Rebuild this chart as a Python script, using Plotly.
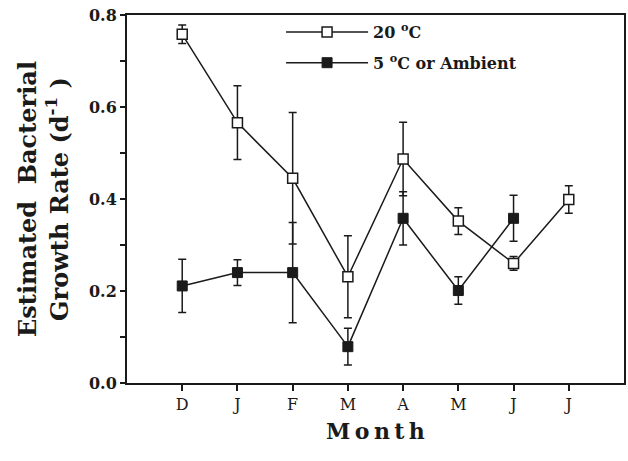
import plotly.graph_objects as go

months = ["D", "J", "F", "M", "A", "M", "J", "J"]
x_idx = [0, 1, 2, 3, 4, 5, 6, 7]

warm_vals = [0.758, 0.566, 0.445, 0.231, 0.487, 0.352, 0.260, 0.399]
warm_err = [0.020, 0.080, 0.143, 0.089, 0.080, 0.029, 0.015, 0.030]

cold_x = [0, 1, 2, 3, 4, 5, 6]
cold_vals = [0.211, 0.240, 0.240, 0.079, 0.358, 0.201, 0.358]
cold_err = [0.058, 0.028, 0.109, 0.040, 0.058, 0.030, 0.050]

y_ticks = [0.0, 0.2, 0.4, 0.6, 0.8]

FONT = "DejaVu Serif"
INK = "#1a1a1a"

fig = go.Figure()
fig.add_trace(go.Scatter(
    x=cold_x, y=cold_vals, mode="lines+markers",
    name="5 <sup>o</sup>C or Ambient", legendgroup="b", legendrank=2,
    line=dict(color=INK, width=1.5),
    marker=dict(symbol="square", size=10, color=INK, line=dict(color=INK, width=1)),
    error_y=dict(type="data", array=cold_err, visible=True, color=INK, thickness=1.5, width=4),
))
fig.add_trace(go.Scatter(
    x=x_idx, y=warm_vals, mode="lines+markers",
    name="20 <sup>o</sup>C", legendgroup="a", legendrank=1,
    line=dict(color=INK, width=1.5),
    marker=dict(symbol="square", size=10, color="white", line=dict(color=INK, width=1.5)),
    error_y=dict(type="data", array=warm_err, visible=True, color=INK, thickness=1.5, width=4),
))

fig.update_layout(
    width=628, height=461,
    margin=dict(l=127, r=2, t=15, b=78),
    paper_bgcolor="white", plot_bgcolor="white",
    font=dict(family=FONT, color=INK),
    showlegend=True,
    legend=dict(
        x=0.31, y=1.0, xanchor="left", yanchor="top",
        traceorder="grouped",
        font=dict(family=FONT, size=16, color=INK, weight="bold"),
        bgcolor="rgba(0,0,0,0)", itemwidth=82,
        tracegroupgap=7,
    ),
    xaxis=dict(
        range=[-1, 8], tickmode="array", tickvals=x_idx, ticktext=months,
        showline=True, linecolor=INK, linewidth=2, mirror=True,
        ticks="outside", ticklen=6, tickwidth=1.5, tickcolor=INK,
        showgrid=False, zeroline=False,
        tickfont=dict(family=FONT, size=16, color=INK),
        title=dict(text="<b>M&#8201;o&#8201;n&#8201;t&#8201;h</b>", font=dict(family=FONT, size=22), standoff=10),
    ),
    yaxis=dict(
        range=[0, 0.8], tickmode="array",
        tickvals=y_ticks, ticktext=[f"<b>{v:.1f}</b>" for v in y_ticks],
        minor=dict(dtick=0.1, ticks="outside", ticklen=5, tickwidth=1.5, tickcolor=INK, showgrid=False),
        showline=True, linecolor=INK, linewidth=2, mirror=True,
        ticks="outside", ticklen=5, tickwidth=1.5, tickcolor=INK,
        showgrid=False, zeroline=False,
        tickfont=dict(family=FONT, size=16, color=INK),
        title=dict(text="<b>Estimated  Bacterial<br>Growth Rate (d<sup>-1</sup> )</b>",
                   font=dict(family=FONT, size=24), standoff=14),
    ),
)

fig.write_html("out.html")
